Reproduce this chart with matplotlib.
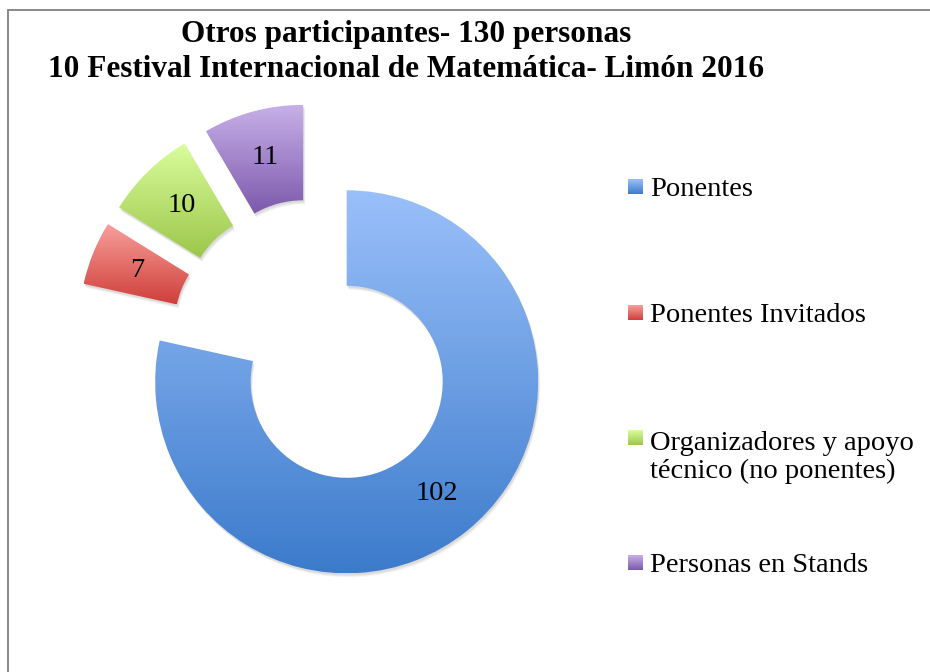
"""
Donut chart: Otros participantes - 10 Festival Internacional de Matemática, Limón 2016.
Every slice is pulled out from the centre by the same amount; each slice gets
a vertical light-to-dark gradient, the way the spreadsheet rendered it.
"""

import matplotlib

matplotlib.use("Agg")  # headless
import matplotlib.pyplot as plt  # noqa: E402
import numpy as np  # noqa: E402
from matplotlib.colors import LinearSegmentedColormap  # noqa: E402
from matplotlib.patches import Rectangle, Wedge  # noqa: E402

# --------------------------------------------------------------------------- #
# Data
# --------------------------------------------------------------------------- #

categories = [
    "Ponentes",
    "Ponentes Invitados",
    "Organizadores y apoyo\ntécnico (no ponentes)",
    "Personas en Stands",
]
values = [102, 7, 10, 11]
title_lines = [
    "Otros participantes- 130 personas",
    "10 Festival Internacional de Matemática- Limón 2016",
]

# gradient end points per slice (top -> bottom)
top_colors = ["#9ac0fa", "#f9a09c", "#d9fd9c", "#c7b0e8"]
bottom_colors = ["#3c7bcb", "#cf3f3a", "#9cc64a", "#7c59ac"]

# --------------------------------------------------------------------------- #
# Layout (pixel units, y measured upward)
# --------------------------------------------------------------------------- #

W_PX, H_PX = 930, 672
CX, CY = 316, H_PX - 343.6     # centre before explosion
RADIUS = 191.5
RING = 95.5
EXPLODE = 49
FONT = "Liberation Serif"

legend_baselines = [196, 322, 447, 572]   # first-line baselines, from top
LEG_LINE = 31                             # baseline-to-baseline, wrapped entry
LEG_BOX_X, LEG_BOX = 628, 15
LEG_TEXT_X = 650


def gradient_fill(ax, patch, c_top, c_bottom, zorder=2):
    # patch outline in data coords (Rectangle keeps a unit path + transform)
    path = patch.get_patch_transform().transform_path(patch.get_path())
    x0, y0, x1, y1 = path.get_extents().extents
    cmap = LinearSegmentedColormap.from_list("g", [c_bottom, c_top])
    grad = np.linspace(0, 1, 256).reshape(-1, 1)
    im = ax.imshow(grad, cmap=cmap, origin="lower", aspect="auto",
                   extent=[x0, x1, y0, y1], interpolation="bilinear",
                   zorder=zorder)
    im.set_clip_path(patch)
    return im


fig = plt.figure(figsize=(W_PX / 100, H_PX / 100), dpi=100)
ax = fig.add_axes([0, 0, 1, 1])

total = sum(values)
wedges, _, autotexts = ax.pie(
    values,
    center=(CX, CY),
    radius=RADIUS,
    startangle=90,
    counterclock=False,
    explode=[EXPLODE] * len(values),
    wedgeprops=dict(width=RING, linewidth=0),
    autopct=lambda p: f"{p * total / 100:.0f}",
    pctdistance=(RADIUS - RING / 2) / RADIUS,
    textprops=dict(family=FONT, fontsize=20.5, color="black"),
)

for w, ct, cb in zip(wedges, top_colors, bottom_colors):
    w.set_facecolor("none")
    w.set_zorder(2)
    # soft drop shadow
    for k, a in [(4, 0.04), (3, 0.05), (2, 0.06)]:
        sh = Wedge((w.center[0] + k * 0.5, w.center[1] - k), w.r, w.theta1,
                   w.theta2, width=w.width, facecolor="black", alpha=a,
                   linewidth=0, zorder=1)
        ax.add_patch(sh)
    gradient_fill(ax, w, ct, cb)

for t in autotexts:
    t.set_zorder(5)

# title
for i, line in enumerate(title_lines):
    ax.text(406, H_PX - (42 + 35 * i), line, family=FONT, fontsize=22.5,
            fontweight="bold", ha="center", va="baseline")

# legend, drawn by hand so the uneven spacing matches
for label, base, ct, cb in zip(categories, legend_baselines,
                               top_colors, bottom_colors):
    y = H_PX - base
    box = Rectangle((LEG_BOX_X, y + 2), LEG_BOX, LEG_BOX, linewidth=0,
                    facecolor="none")
    ax.add_patch(box)
    gradient_fill(ax, box, ct, cb, zorder=3)
    # multi-line text: matplotlib's baseline is the last line's
    extra = label.count("\n") * LEG_LINE
    ax.text(LEG_TEXT_X, y - extra, label, family=FONT, fontsize=20.5,
            ha="left", va="baseline", linespacing=1.15)

# chart-area border (only top and left edges fall inside the image)
ax.plot([7.5, 7.5, W_PX + 5], [-5, H_PX - 9.5, H_PX - 9.5],
        color="#808080", linewidth=1.3, solid_joinstyle="miter")

ax.set_xlim(0, W_PX)
ax.set_ylim(0, H_PX)
ax.set_aspect("auto")
ax.axis("off")

fig.savefig("out.png", dpi=100)
